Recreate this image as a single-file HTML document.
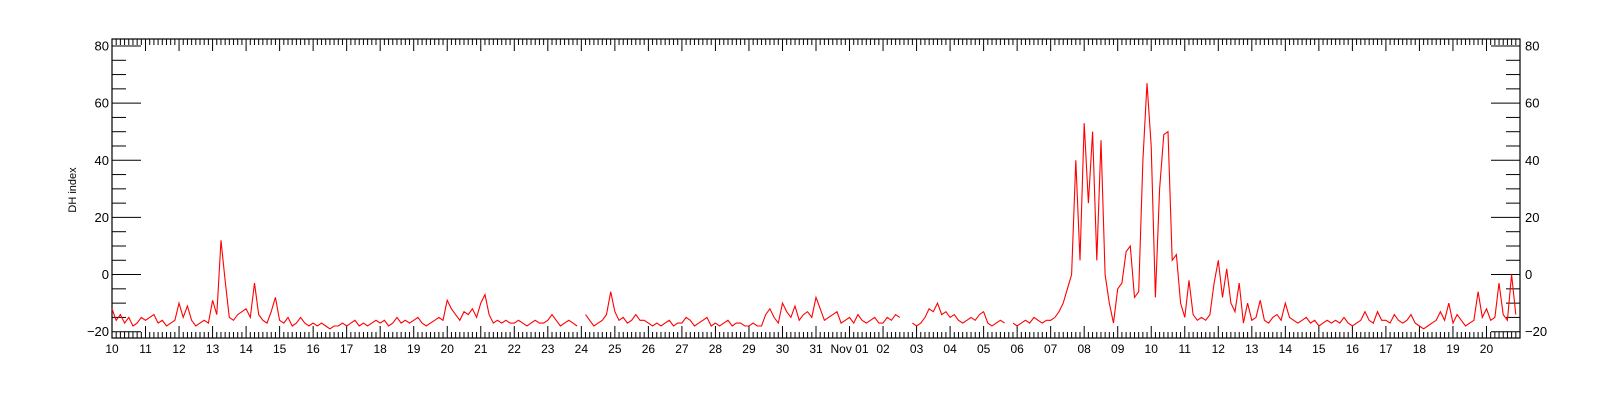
<!DOCTYPE html>
<html><head><meta charset="utf-8"><style>
html,body{margin:0;padding:0;background:#fff;}
svg{display:block;font-family:"Liberation Sans",sans-serif;}
</style></head><body>
<svg id="chart" width="1600" height="400" viewBox="0 0 1600 400" xmlns="http://www.w3.org/2000/svg">
<g id="axes"></g>
<g id="series"></g>
<text x="76" y="190" font-size="11" text-anchor="middle" transform="rotate(-90 76 190)">DH index</text>
</svg>
<script>
// Day labels (Oct 10 .. Nov 20), 8 samples per day (3-hourly)
const dayLabels = ["10","11","12","13","14","15","16","17","18","19","20","21","22","23","24","25","26","27","28","29","30","31","Nov 01","02","03","04","05","06","07","08","09","10","11","12","13","14","15","16","17","18","19","20"];
const yTicks = [-20,0,20,40,60,80];
const dhValues = [
-12,-16,-14,-17,-15,-18,-17,-15,
-16,-15,-14,-17,-16,-18,-17,-16,
-10,-15,-11,-16,-18,-17,-16,-17,
-9,-14,12,-2,-15,-16,-14,-13,
-12,-15,-3,-14,-16,-17,-13,-8,
-16,-17,-15,-18,-17,-15,-17,-18,
-17,-18,-17,-18,-19,-18,-18,-17,
-18,-17,-16,-18,-17,-18,-17,-16,
-17,-16,-18,-17,-15,-17,-16,-17,
-16,-15,-17,-18,-17,-16,-15,-16,
-9,-12,-14,-16,-13,-14,-12,-15,
-10,-7,-14,-17,-16,-17,-16,-17,
-17,-16,-17,-18,-17,-16,-17,-17,
-16,-14,-16,-18,-17,-16,-17,-18,
null,-14,-16,-18,-17,-16,-14,-6,
-13,-16,-15,-17,-16,-14,-16,-16,
-17,-18,-17,-18,-17,-16,-18,-17,
-17,-15,-16,-18,-17,-16,-15,-18,
-17,-18,-17,-16,-18,-17,-17,-18,
-18,-17,-18,-18,-14,-12,-15,-17,
-10,-13,-15,-11,-16,-14,-13,-15,
-8,-12,-16,-15,-14,-13,-17,-16,
-15,-17,-14,-16,-17,-16,-15,-17,
-17,-15,-16,-14,-15,null,null,-17,
-18,-17,-15,-12,-13,-10,-14,-13,
-15,-14,-16,-17,-16,-15,-16,-14,
-13,-17,-18,-17,-16,-17,null,-17,
-18,-17,-16,-17,-15,-16,-17,-16,
-16,-15,-13,-10,-5,0,40,5,
53,25,50,5,47,0,-10,-17,
-5,-3,8,10,-8,-6,40,67,
45,-8,30,49,50,5,7,-10,
-15,-2,-14,-16,-15,-16,-14,-3,
5,-8,2,-10,-13,-3,-17,-10,
-16,-15,-9,-16,-17,-15,-14,-16,
-10,-15,-16,-17,-16,-15,-17,-16,
-18,-17,-16,-17,-16,-17,-15,-17,
-18,-17,-16,-13,-16,-17,-13,-16,
-16,-17,-14,-16,-17,-16,-14,-17,
-18,-19,-18,-17,-16,-13,-16,-10,
-17,-14,-16,-18,-17,-16,-6,-15,
-12,-16,-15,-3,-14,-16,0,-14
];
const SPD = 8;
const X0=112, X1=1520, Y0=39, Y1=338, NDAYS=42;
function xs(d){return X0+(X1-X0)*d/NDAYS;}
function ys(v){return 46+(80-v)*2.857;}
const NS="http://www.w3.org/2000/svg";
function mk(tag,attrs,parent){const e=document.createElementNS(NS,tag);for(const k in attrs)e.setAttribute(k,attrs[k]);parent.appendChild(e);return e;}
const ax=document.getElementById('axes');
const frame=mk('rect',{x:X0,y:Y0,width:X1-X0,height:Y1-Y0,fill:'none',stroke:'#000','stroke-width':1.2},ax);


// x ticks
for(let i=0;i<=NDAYS*SPD;i++){
  const x=xs(i/SPD);const major=i%SPD===0;const L=major?12:6;
  const t1=mk('line',{x1:x,x2:x,y1:Y1,y2:Y1-L,stroke:'#000','stroke-width':1},ax);
  
  
  const t2=mk('line',{x1:x,x2:x,y1:Y0,y2:Y0+L,stroke:'#000','stroke-width':1},ax);
  
  
}
dayLabels.forEach((lab,i)=>{
  const t=mk('text',{x:xs(i),y:353,'font-size':12,'text-anchor':'middle'},ax);
  t.textContent=lab;
  
  
});
// y ticks
for(let v=-20;v<=80;v+=5){
  const y=ys(v);const major=v%20===0;const L=major?29:14;
  const a=mk('line',{x1:X0,x2:X0+L,y1:y,y2:y,stroke:'#000','stroke-width':1},ax);
  
  
  const b=mk('line',{x1:X1,x2:X1-L,y1:y,y2:y,stroke:'#000','stroke-width':1},ax);
  
  
}
yTicks.forEach(v=>{
  const y=ys(v)+4.5;
  const l=mk('text',{x:109,y:y,'font-size':13,'text-anchor':'end'},ax);
  l.textContent=(v<0?'\u2212'+(-v):v);
  
  
  const r=mk('text',{x:1525,y:y,'font-size':13,'text-anchor':'start'},ax);
  r.textContent=(v<0?'\u2212'+(-v):v);
  
  
});
// series
const sg=document.getElementById('series');
let seg=[];
function flush(){
  if(seg.length>1){
    const p=mk('polyline',{points:seg.join(' '),fill:'none',stroke:'#ff0000','stroke-width':1.1},sg);
    
    
  }
  seg=[];
}
dhValues.forEach((v,i)=>{
  if(v===null){flush();return;}
  seg.push(xs(i/SPD).toFixed(1)+','+ys(v).toFixed(1));
});
flush();
</script>
</body></html>
